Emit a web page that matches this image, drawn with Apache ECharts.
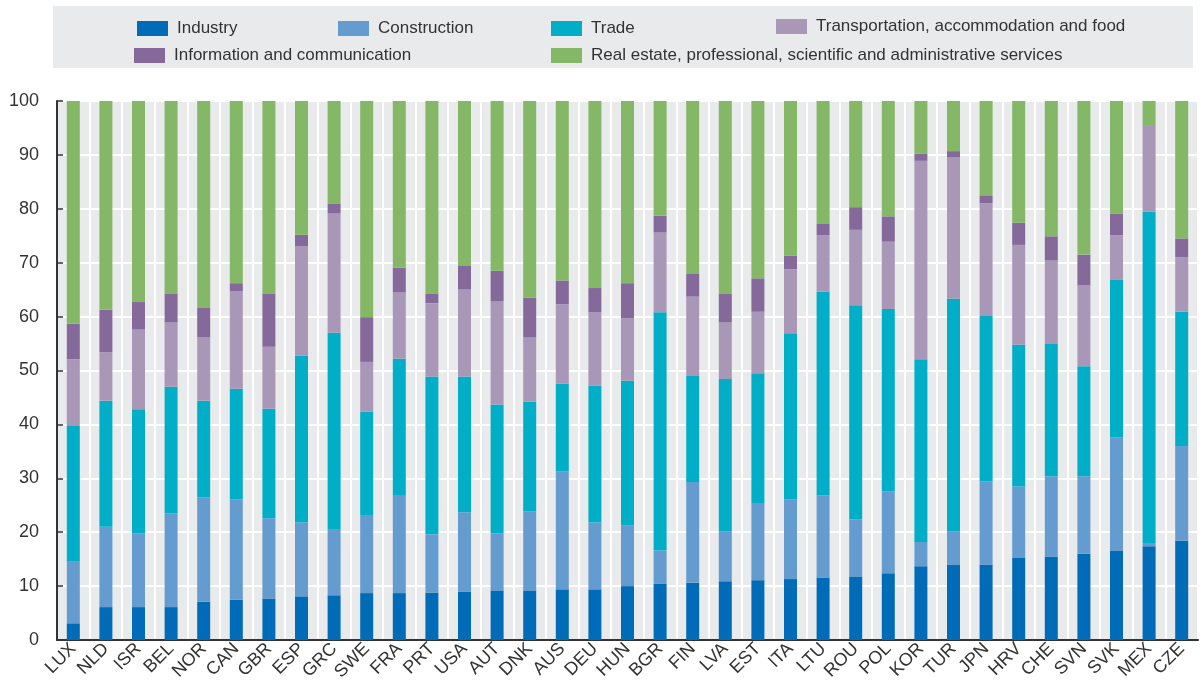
<!DOCTYPE html>
<html>
<head>
<meta charset="utf-8">
<script src="https://cdn.jsdelivr.net/npm/echarts@6/dist/echarts.min.js"></script>
<style>
html, body { margin: 0; padding: 0; background: #fff; }
#chart { width: 1200px; height: 684px; }
</style>
</head>
<body>
<div id="chart"></div>
<script>
// countries, sorted by industry share
var countries = ['LUX', 'NLD', 'ISR', 'BEL', 'NOR', 'CAN', 'GBR', 'ESP', 'GRC', 'SWE',
    'FRA', 'PRT', 'USA', 'AUT', 'DNK', 'AUS', 'DEU', 'HUN', 'BGR', 'FIN',
    'LVA', 'EST', 'ITA', 'LTU', 'ROU', 'POL', 'KOR', 'TUR', 'JPN', 'HRV',
    'CHE', 'SVN', 'SVK', 'MEX', 'CZE'];

var industry = [3.1, 6.1, 6.1, 6.1, 7.1, 7.5, 7.7, 8.1, 8.3, 8.7,
    8.7, 8.8, 9.0, 9.2, 9.2, 9.4, 9.4, 10.0, 10.4, 10.6,
    10.9, 11.1, 11.3, 11.6, 11.8, 12.4, 13.7, 13.9, 14.0, 15.2,
    15.5, 16.0, 16.5, 17.4, 18.4];
var construction = [11.4, 14.9, 13.7, 17.4, 19.4, 18.6, 14.9, 13.7, 12.3, 14.5,
    18.2, 10.8, 14.7, 10.6, 14.7, 21.9, 12.4, 11.3, 6.2, 18.7,
    9.3, 14.3, 14.8, 15.2, 10.6, 15.2, 4.5, 6.3, 15.4, 13.3,
    14.9, 14.4, 21.1, 0.6, 17.6];
var trade = [25.2, 23.4, 23.0, 23.5, 17.9, 20.5, 20.3, 31.0, 36.4, 19.2,
    25.3, 29.3, 25.2, 23.9, 20.3, 16.3, 25.4, 26.8, 44.2, 19.7,
    28.2, 24.1, 30.8, 37.8, 39.7, 33.8, 33.9, 43.1, 30.7, 26.3,
    24.5, 20.4, 29.2, 61.5, 24.9];
var transport = [12.4, 9.0, 14.8, 11.9, 11.8, 18.1, 11.5, 20.3, 22.2, 9.2,
    12.3, 13.6, 16.2, 19.1, 12.0, 14.7, 13.6, 11.6, 14.8, 14.7,
    10.5, 11.4, 11.9, 10.5, 14.0, 12.5, 36.8, 26.3, 20.9, 18.5,
    15.5, 15.0, 8.3, 15.9, 10.1];
var information = [6.6, 7.9, 5.1, 5.3, 5.4, 1.5, 9.8, 2.1, 1.8, 8.3,
    4.6, 1.8, 4.3, 5.7, 7.3, 4.4, 4.5, 6.5, 3.1, 4.2,
    5.3, 6.2, 2.5, 2.2, 4.2, 4.7, 1.3, 1.1, 1.5, 4.1,
    4.5, 5.7, 4.0, 0.1, 3.5];
var realEstate = [41.3, 38.7, 37.3, 35.8, 38.4, 33.8, 35.8, 24.8, 19.0, 40.1,
    30.9, 35.7, 30.6, 31.5, 36.5, 33.3, 34.7, 33.8, 21.3, 32.1,
    35.8, 32.9, 28.7, 22.7, 19.7, 21.4, 9.8, 9.3, 17.5, 22.6,
    25.1, 28.5, 20.9, 4.5, 25.5];

var names = ['Industry', 'Construction', 'Trade', 'Transportation, accommodation and food',
    'Information and communication', 'Real estate, professional, scientific and administrative services'];
var colors = ['#006bb6', '#659cd0', '#00afc7', '#a997b8', '#84699a', '#84b766'];
var values = [industry, construction, trade, transport, information, realEstate];

// where each legend entry sits
var legendPos = [[132, 15], [333, 15], [546, 15], [771, 13], [129, 42], [546, 42]];

var chart = echarts.init(document.getElementById('chart'));

var fontFamily = 'Liberation Sans, Arial, sans-serif';

var legends = names.map(function (n, i) {
    return {
        data: [n],
        left: legendPos[i][0],
        top: legendPos[i][1],
        icon: 'rect',
        itemWidth: 31,
        itemHeight: 15,
        selectedMode: false,
        textStyle: {fontSize: 17, color: '#333', fontFamily: fontFamily, padding: [0, 0, 0, 4]}
    };
});

var series = names.map(function (n, i) {
    return {
        name: n,
        type: 'bar',
        stack: 'total',
        barWidth: 13,
        itemStyle: {color: colors[i]},
        data: values[i]
    };
});

chart.setOption({
    animation: false,
    textStyle: {fontFamily: fontFamily},
    color: colors,
    graphic: [{
        type: 'rect',
        z: -10,
        shape: {x: 53, y: 6, width: 1140, height: 62},
        style: {fill: '#e9eaec'}
    }],
    legend: legends,
    grid: {
        left: 57, right: 2, top: 101, bottom: 44,
        show: true, backgroundColor: '#e9eaec', borderWidth: 0
    },
    xAxis: {
        type: 'category',
        data: countries,
        axisLine: {lineStyle: {color: '#333', width: 2}},
        axisTick: {inside: true, length: 6, lineStyle: {color: '#333', width: 1.5}},
        axisLabel: {rotate: 45, fontSize: 18, color: '#333', margin: 6, interval: 0},
        splitLine: {show: true, lineStyle: {color: '#fff', width: 2}}
    },
    yAxis: {
        type: 'value',
        min: 0, max: 100, interval: 10,
        axisLine: {show: true, lineStyle: {color: '#333', width: 2}},
        axisTick: {show: true, inside: true, length: 6, lineStyle: {color: '#333', width: 1.5}},
        axisLabel: {fontSize: 18, color: '#333', margin: 18},
        splitLine: {lineStyle: {color: '#fff', width: 2}}
    },
    series: series
});
</script>
</body>
</html>
